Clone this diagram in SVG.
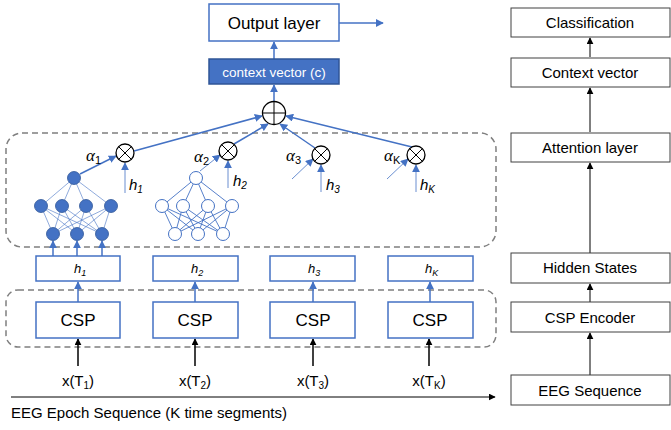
<svg xmlns="http://www.w3.org/2000/svg" width="671" height="430" viewBox="0 0 671 430">
<defs>
<style>
.bx{fill:#fff;stroke:#4472C4;stroke-width:1.5}
.rbx{fill:#fff;stroke:#404040;stroke-width:1}
.dash{fill:none;stroke:#7F7F7F;stroke-width:1.5;stroke-dasharray:6 4}
.bl{stroke:#4472C4;stroke-width:1.5;fill:none}
.bt{stroke:#4472C4;stroke-width:0.8;fill:none}
.bk{stroke:#000;stroke-width:1.5;fill:none}
.bk1{stroke:#000;stroke-width:1;fill:none}
.t{font-family:"Liberation Sans",Arial,sans-serif;fill:#000}
.ti{font-family:"Liberation Sans",Arial,sans-serif;font-style:italic;fill:#000}
.ta{font-family:"Liberation Serif","DejaVu Serif",serif;font-style:italic;fill:#000}
.nf{fill:#4472C4;stroke:#2F5597;stroke-width:0.8}
.no{fill:#fff;stroke:#4472C4;stroke-width:1}
.nlf{stroke:#4472C4;stroke-width:0.6}
.nlo{stroke:#4472C4;stroke-width:0.9}
.op{fill:#fff;stroke:#000;stroke-width:1.3}
</style>
<marker id="ab" viewBox="0 0 10 10" refX="9" refY="5" markerWidth="8" markerHeight="8" markerUnits="userSpaceOnUse" orient="auto"><path d="M0,0 L10,5 L0,10 z" fill="#4472C4"/></marker>
<marker id="ak" viewBox="0 0 10 10" refX="9" refY="5" markerWidth="7" markerHeight="7" markerUnits="userSpaceOnUse" orient="auto"><path d="M0,0 L10,5 L0,10 z" fill="#000"/></marker>
</defs>

<!-- dashed groups -->
<rect class="dash" x="6" y="133" width="490" height="114" rx="16"/>
<rect class="dash" x="6" y="290" width="490" height="57" rx="12"/>

<g id="connectors">
<line class="bl" x1="339" y1="23" x2="383" y2="23" marker-end="url(#ab)"/>
<line class="bl" x1="274" y1="59" x2="274" y2="42" marker-end="url(#ab)"/>
<line class="bl" x1="274" y1="101" x2="274" y2="85" marker-end="url(#ab)"/>
<line class="bl" x1="134" y1="151" x2="262" y2="116" marker-end="url(#ab)"/>
<line class="bl" x1="234" y1="144" x2="268" y2="124" marker-end="url(#ab)"/>
<line class="bl" x1="315" y1="148" x2="280" y2="124" marker-end="url(#ab)"/>
<line class="bl" x1="412" y1="147" x2="286" y2="116" marker-end="url(#ab)"/>
<line class="bl" x1="80" y1="174" x2="116" y2="156" marker-end="url(#ab)"/>
<line class="bt" x1="200" y1="171" x2="220" y2="155" marker-end="url(#ab)"/>
<line class="bt" x1="292" y1="179" x2="313" y2="159" marker-end="url(#ab)"/>
<line class="bt" x1="387" y1="179" x2="408" y2="159" marker-end="url(#ab)"/>
<line class="bt" x1="125" y1="193" x2="125" y2="163" marker-end="url(#ab)"/>
<line class="bt" x1="228" y1="188" x2="228" y2="161" marker-end="url(#ab)"/>
<line class="bt" x1="321" y1="192" x2="321" y2="165" marker-end="url(#ab)"/>
<line class="bt" x1="416" y1="192" x2="416" y2="165" marker-end="url(#ab)"/>
<line class="bl" x1="53" y1="256" x2="53" y2="241" marker-end="url(#ab)"/>
<line class="bl" x1="77" y1="256" x2="77" y2="241" marker-end="url(#ab)"/>
<line class="bl" x1="102" y1="256" x2="102" y2="241" marker-end="url(#ab)"/>
<line class="bl" x1="78" y1="302" x2="78" y2="282" marker-end="url(#ab)"/>
<line class="bl" x1="195" y1="302" x2="195" y2="282" marker-end="url(#ab)"/>
<line class="bl" x1="313" y1="302" x2="313" y2="282" marker-end="url(#ab)"/>
<line class="bl" x1="430" y1="302" x2="430" y2="282" marker-end="url(#ab)"/>
<line class="bk" x1="78" y1="366" x2="78" y2="339" marker-end="url(#ak)"/>
<line class="bk" x1="195" y1="366" x2="195" y2="339" marker-end="url(#ak)"/>
<line class="bk" x1="313" y1="366" x2="313" y2="339" marker-end="url(#ak)"/>
<line class="bk" x1="429" y1="366" x2="429" y2="339" marker-end="url(#ak)"/>
<line class="bk1" x1="11" y1="397" x2="495" y2="397" marker-end="url(#ak)"/>
<line class="bk1" x1="590" y1="57" x2="590" y2="38" marker-end="url(#ak)"/>
<line class="bk1" x1="590" y1="132" x2="590" y2="88" marker-end="url(#ak)"/>
<line class="bk1" x1="590" y1="253" x2="590" y2="163" marker-end="url(#ak)"/>
<line class="bk1" x1="590" y1="302" x2="590" y2="284" marker-end="url(#ak)"/>
<line class="bk1" x1="590" y1="375" x2="590" y2="333" marker-end="url(#ak)"/>
</g>

<g id="output-layer">
<rect class="bx" x="209" y="4" width="130" height="37"/>
<text class="t" x="274" y="29" font-size="17" text-anchor="middle">Output layer</text>
</g>
<g id="context-vector">
<rect x="209" y="59" width="130" height="25" fill="#4472C4" stroke="#2F5597" stroke-width="1.5"/>
<text x="274" y="76.5" font-size="13.5" text-anchor="middle" font-family="Liberation Sans, Arial, sans-serif" fill="#fff">context vector (c)</text>
</g>
<g id="oplus">
<circle class="op" cx="274" cy="113" r="11.5"/>
<line class="bk1" x1="262.5" y1="113" x2="285.5" y2="113"/>
<line class="bk1" x1="274" y1="101.5" x2="274" y2="124.5"/>
</g>

<g id="mult1"><circle class="op" cx="125" cy="153" r="9"/><path d="M118.6,146.6 L131.4,159.4 M131.4,146.6 L118.6,159.4" class="bk1"/></g>
<g id="mult2"><circle class="op" cx="228" cy="151" r="9"/><path d="M221.6,144.6 L234.4,157.4 M234.4,144.6 L221.6,157.4" class="bk1"/></g>
<g id="mult3"><circle class="op" cx="321" cy="155" r="9"/><path d="M314.6,148.6 L327.4,161.4 M327.4,148.6 L314.6,161.4" class="bk1"/></g>
<g id="multK"><circle class="op" cx="416" cy="155" r="9"/><path d="M409.6,148.6 L422.4,161.4 M422.4,148.6 L409.6,161.4" class="bk1"/></g>

<g id="labels-alpha">
<text class="ta" x="86" y="161" font-size="17">α<tspan font-size="11" dy="3" font-style="normal" font-family="Liberation Sans">1</tspan></text>
<text class="ta" x="194" y="162" font-size="17">α<tspan font-size="11" dy="3" font-style="normal" font-family="Liberation Sans">2</tspan></text>
<text class="ta" x="286" y="161" font-size="17">α<tspan font-size="11" dy="3" font-style="normal" font-family="Liberation Sans">3</tspan></text>
<text class="ta" x="384" y="161" font-size="17">α<tspan font-size="11" dy="3" font-style="normal" font-family="Liberation Sans">K</tspan></text>
<text class="ti" x="129" y="190" font-size="15">h<tspan font-size="10" dy="3">1</tspan></text>
<text class="ti" x="233" y="186" font-size="15">h<tspan font-size="10" dy="3">2</tspan></text>
<text class="ti" x="326" y="190" font-size="15">h<tspan font-size="10" dy="3">3</tspan></text>
<text class="ti" x="420" y="190" font-size="15">h<tspan font-size="10" dy="3">K</tspan></text>
</g>

<g id="network1">
<g class="nlf">
<line x1="74" y1="178" x2="41" y2="206"/><line x1="74" y1="178" x2="62" y2="206"/><line x1="74" y1="178" x2="86" y2="206"/><line x1="74" y1="178" x2="111" y2="206"/>
<line x1="41" y1="206" x2="53" y2="234"/><line x1="41" y1="206" x2="77" y2="234"/><line x1="41" y1="206" x2="102" y2="234"/>
<line x1="62" y1="206" x2="53" y2="234"/><line x1="62" y1="206" x2="77" y2="234"/><line x1="62" y1="206" x2="102" y2="234"/>
<line x1="86" y1="206" x2="53" y2="234"/><line x1="86" y1="206" x2="77" y2="234"/><line x1="86" y1="206" x2="102" y2="234"/>
<line x1="111" y1="206" x2="53" y2="234"/><line x1="111" y1="206" x2="77" y2="234"/><line x1="111" y1="206" x2="102" y2="234"/>
</g>
<circle class="nf" cx="74" cy="178" r="6.5"/>
<circle class="nf" cx="41" cy="206" r="6.5"/><circle class="nf" cx="62" cy="206" r="6.5"/><circle class="nf" cx="86" cy="206" r="6.5"/><circle class="nf" cx="111" cy="206" r="6.5"/>
<circle class="nf" cx="53" cy="234" r="6.5"/><circle class="nf" cx="77" cy="234" r="6.5"/><circle class="nf" cx="102" cy="234" r="6.5"/>
</g>

<g id="network2">
<g class="nlo">
<line x1="196" y1="178" x2="162" y2="206"/><line x1="196" y1="178" x2="183" y2="206"/><line x1="196" y1="178" x2="208" y2="206"/><line x1="196" y1="178" x2="232" y2="206"/>
<line x1="162" y1="206" x2="175" y2="234"/><line x1="162" y1="206" x2="198" y2="234"/><line x1="162" y1="206" x2="223" y2="234"/>
<line x1="183" y1="206" x2="175" y2="234"/><line x1="183" y1="206" x2="198" y2="234"/><line x1="183" y1="206" x2="223" y2="234"/>
<line x1="208" y1="206" x2="175" y2="234"/><line x1="208" y1="206" x2="198" y2="234"/><line x1="208" y1="206" x2="223" y2="234"/>
<line x1="232" y1="206" x2="175" y2="234"/><line x1="232" y1="206" x2="198" y2="234"/><line x1="232" y1="206" x2="223" y2="234"/>
</g>
<circle class="no" cx="196" cy="178" r="6.5"/>
<circle class="no" cx="162" cy="206" r="6.5"/><circle class="no" cx="183" cy="206" r="6.5"/><circle class="no" cx="208" cy="206" r="6.5"/><circle class="no" cx="232" cy="206" r="6.5"/>
<circle class="no" cx="175" cy="234" r="6.5"/><circle class="no" cx="198" cy="234" r="6.5"/><circle class="no" cx="223" cy="234" r="6.5"/>
</g>

<g id="h1"><rect class="bx" x="36" y="256" width="84" height="25"/><text class="ti" x="74" y="273" font-size="13">h<tspan font-size="9" dy="3">1</tspan></text></g>
<g id="h2"><rect class="bx" x="153" y="256" width="85" height="25"/><text class="ti" x="191" y="273" font-size="13">h<tspan font-size="9" dy="3">2</tspan></text></g>
<g id="h3"><rect class="bx" x="270" y="256" width="85" height="25"/><text class="ti" x="308" y="273" font-size="13">h<tspan font-size="9" dy="3">3</tspan></text></g>
<g id="hK"><rect class="bx" x="388" y="256" width="85" height="25"/><text class="ti" x="425" y="273" font-size="13">h<tspan font-size="9" dy="3">K</tspan></text></g>

<g id="csp1"><rect class="bx" x="36" y="302" width="84" height="36"/><text class="t" x="78" y="326" font-size="17" text-anchor="middle">CSP</text></g>
<g id="csp2"><rect class="bx" x="153" y="302" width="85" height="36"/><text class="t" x="195" y="326" font-size="17" text-anchor="middle">CSP</text></g>
<g id="csp3"><rect class="bx" x="270" y="302" width="85" height="36"/><text class="t" x="313" y="326" font-size="17" text-anchor="middle">CSP</text></g>
<g id="cspK"><rect class="bx" x="388" y="302" width="85" height="36"/><text class="t" x="430" y="326" font-size="17" text-anchor="middle">CSP</text></g>

<g id="inputs">
<text class="t" x="78" y="386" font-size="15" text-anchor="middle">x(T<tspan font-size="10" dy="3">1</tspan><tspan dy="-3">)</tspan></text>
<text class="t" x="195" y="386" font-size="15" text-anchor="middle">x(T<tspan font-size="10" dy="3">2</tspan><tspan dy="-3">)</tspan></text>
<text class="t" x="313" y="386" font-size="15" text-anchor="middle">x(T<tspan font-size="10" dy="3">3</tspan><tspan dy="-3">)</tspan></text>
<text class="t" x="429" y="386" font-size="15" text-anchor="middle">x(T<tspan font-size="10" dy="3">K</tspan><tspan dy="-3">)</tspan></text>
<text class="t" x="11" y="418" font-size="15">EEG Epoch Sequence (K time segments)</text>
</g>

<g id="r-classification"><rect class="rbx" x="511" y="8" width="159" height="29"/><text class="t" x="590" y="28" font-size="15" text-anchor="middle">Classification</text></g>
<g id="r-context"><rect class="rbx" x="511" y="58" width="159" height="29"/><text class="t" x="590" y="78" font-size="15" text-anchor="middle">Context vector</text></g>
<g id="r-attention"><rect class="rbx" x="511" y="133" width="159" height="29"/><text class="t" x="590" y="153" font-size="15" text-anchor="middle">Attention layer</text></g>
<g id="r-hidden"><rect class="rbx" x="511" y="253" width="159" height="30"/><text class="t" x="590" y="273" font-size="15" text-anchor="middle">Hidden States</text></g>
<g id="r-csp"><rect class="rbx" x="511" y="302" width="159" height="30"/><text class="t" x="590" y="323" font-size="15" text-anchor="middle">CSP Encoder</text></g>
<g id="r-eeg"><rect class="rbx" x="511" y="375" width="159" height="30"/><text class="t" x="590" y="396" font-size="15" text-anchor="middle">EEG Sequence</text></g>
</svg>
